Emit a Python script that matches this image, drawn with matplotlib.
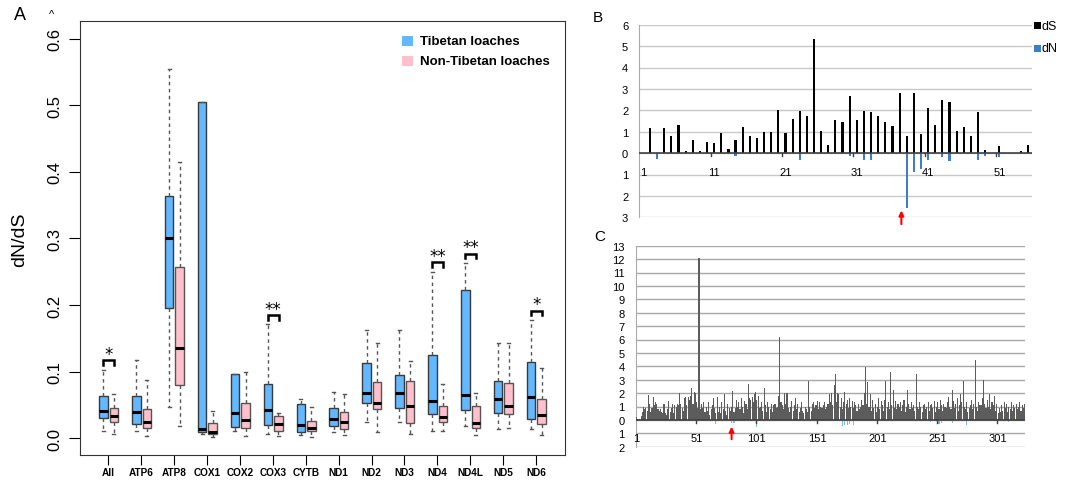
import matplotlib
matplotlib.use("Agg")
import matplotlib.pyplot as plt
from matplotlib.patches import Rectangle

# ---- panel A: dN/dS boxplots per gene ----
genes = ["All", "ATP6", "ATP8", "COX1", "COX2", "COX3", "CYTB",
         "ND1", "ND2", "ND3", "ND4", "ND4L", "ND5", "ND6"]

tib_lo = [0.011, 0.0115, 0.0465, 0.0065, 0.0115, 0.007, 0.0055, 0.009, 0.024, 0.024, 0.011, 0.0185, 0.014, 0.0135]
tib_q1 = [0.031, 0.021, 0.1956, 0.010, 0.0175, 0.0195, 0.009, 0.019, 0.0525, 0.0455, 0.036, 0.0425, 0.0385, 0.029]
tib_med = [0.0405, 0.040, 0.300, 0.014, 0.0375, 0.0425, 0.020, 0.029, 0.0685, 0.0675, 0.056, 0.0655, 0.059, 0.0625]
tib_q3 = [0.0635, 0.064, 0.3643, 0.5045, 0.0965, 0.082, 0.0515, 0.046, 0.1125, 0.0945, 0.1245, 0.222, 0.0865, 0.115]
tib_hi = [0.103, 0.117, 0.5545, 0.5045, 0.0965, 0.172, 0.059, 0.070, 0.163, 0.1625, 0.2495, 0.263, 0.143, 0.178]

non_lo = [0.007, 0.004, 0.019, 0.002, 0.004, 0.0035, 0.0025, 0.0045, 0.009, 0.006, 0.0115, 0.005, 0.0155, 0.0045]
non_q1 = [0.024, 0.015, 0.0805, 0.006, 0.015, 0.011, 0.0105, 0.0135, 0.0435, 0.0225, 0.025, 0.015, 0.037, 0.022]
non_med = [0.033, 0.025, 0.135, 0.010, 0.027, 0.0215, 0.0155, 0.025, 0.053, 0.048, 0.0325, 0.023, 0.048, 0.0355]
non_q3 = [0.045, 0.0445, 0.2577, 0.0225, 0.0525, 0.033, 0.0265, 0.0395, 0.0845, 0.0865, 0.0485, 0.049, 0.083, 0.059]
non_hi = [0.0665, 0.0875, 0.4153, 0.041, 0.099, 0.0375, 0.0475, 0.0665, 0.1425, 0.1165, 0.081, 0.068, 0.143, 0.106]

sig_genes = ["All", "COX3", "ND4", "ND4L", "ND6"]
sig_marks = ["*", "**", "**", "**", "*"]
sig_level = [0.117, 0.185, 0.264, 0.277, 0.1915]

# ---- panel B: per-codon dS / dN ----
b_ds = [0.0, 1.18, 0.0, 1.18, 0.8, 1.31, 0.09, 0.62, 0.08, 0.53,
        0.47, 0.93, 0.19, 0.62, 1.21, 0.8, 0.7, 1.0, 1.0, 2.02,
        0.95, 1.6, 1.95, 1.73, 5.33, 1.04, 0.4, 1.56, 1.46, 2.66,
        1.56, 1.98, 1.9, 1.75, 1.46, 1.26, 2.83, 0.81, 2.82, 0.9,
        2.1, 1.32, 2.5, 2.38, 1.04, 1.21, 0.81, 1.93, 0.16, 0.0,
        0.33, 0.0, 0.0, 0.08, 0.36]
b_dn_pos = [3, 14, 23, 30, 32, 33, 38, 39, 40, 41, 43, 44, 48, 49, 51]
b_dn = [0.26, 0.12, 0.31, 0.14, 0.34, 0.34, 2.55, 0.87, 0.76, 0.31, 0.16, 0.37, 0.34, 0.14, 0.16]

# ---- panel C: per-codon dS / dN ----
c_ds = [0.2, 0.05, 0.1, 0.1, 0.3, 0.6, 1.0, 0.8, 0.9, 0.7, 1.85, 1.2, 0.6, 0.9, 1.7, 1.1, 1.3, 1.2, 0.8, 0.7,
        0.8, 0.6, 0.5, 1.2, 0.5, 0.4, 0.8, 1.4, 0.6, 0.9, 1.2, 0.5, 1.1, 1.0, 1.2, 1.1, 2.0, 1.2, 0.9, 0.7,
        1.6, 1.7, 1.1, 1.7, 1.5, 1.8, 2.4, 1.2, 2.1, 2.0, 1.3, 0.9, 12.05, 0.8, 1.2, 0.9, 1.3, 0.6, 1.0, 0.7,
        1.3, 0.4, 0.8, 1.1, 1.6, 0.9, 0.5, 1.7, 0.6, 1.0, 0.5, 1.3, 0.8, 1.9, 0.7, 0.4, 1.2, 0.9, 0.7, 1.0,
        2.15, 0.6, 0.9, 1.5, 1.0, 1.3, 0.8, 1.6, 1.0, 0.5, 1.4, 1.2, 0.8, 2.7, 1.6, 1.5, 1.7, 1.3, 1.9, 2.1,
        1.5, 1.8, 0.9, 1.0, 1.3, 0.7, 2.4, 1.1, 0.6, 1.3, 1.0, 0.8, 1.2, 0.6, 1.1, 1.2, 0.9, 1.0, 1.8, 6.2,
        1.3, 1.1, 0.8, 2.0, 1.2, 2.0, 0.9, 0.6, 1.0, 1.4, 0.7, 1.1, 1.6, 0.8, 1.2, 0.6, 0.9, 1.3, 0.7, 0.5,
        1.0, 0.8, 0.6, 2.9, 1.0, 0.7, 1.2, 1.3, 0.9, 1.1, 1.4, 0.8, 1.3, 1.0, 0.9, 1.1, 1.3, 0.8, 1.0, 1.2,
        1.9, 1.3, 2.0, 1.1, 2.6, 3.45, 1.3, 2.0, 1.9, 1.0, 1.6, 0.8, 1.3, 2.1, 1.2, 1.5, 0.9, 1.6, 1.0, 1.4,
        0.9, 1.3, 1.1, 0.7, 1.2, 0.8, 1.0, 1.5, 1.1, 2.0, 3.95, 1.2, 2.8, 1.0, 1.9, 0.7, 1.5, 0.9, 1.2, 0.6,
        1.0, 1.6, 0.8, 1.4, 1.1, 0.7, 1.5, 2.9, 1.0, 1.3, 0.8, 3.55, 1.1, 2.2, 0.9, 1.4, 0.8, 1.2, 1.0, 1.3,
        0.7, 1.1, 1.5, 0.6, 1.0, 2.25, 1.2, 0.8, 1.3, 0.9, 1.1, 0.7, 3.4, 1.0, 0.8, 1.3, 1.0, 0.6, 1.1, 1.2,
        0.8, 1.0, 1.3, 0.7, 1.1, 1.2, 0.9, 1.4, 0.6, 1.0, 1.3, 0.8, 1.5, 1.1, 0.7, 1.2, 1.0, 0.9, 1.3, 1.7,
        1.0, 0.8, 2.2, 1.4, 0.9, 1.2, 1.6, 0.7, 1.1, 1.9, 1.3, 2.9, 1.0, 0.8, 1.3, 0.6, 0.9, 1.1, 1.5, 0.8,
        1.2, 4.45, 1.0, 0.7, 1.3, 1.1, 1.1, 1.6, 3.0, 1.2, 0.9, 1.5, 1.0, 1.9, 0.8, 1.3, 1.1, 1.8, 0.7, 1.2,
        0.5, 0.9, 0.6, 1.1, 0.7, 1.3, 0.9, 1.2, 0.6, 1.0, 0.8, 1.3, 0.7, 1.1, 0.9, 1.2, 0.8, 1.0, 1.3, 0.7,
        1.1, 0.9, 1.2]
c_dn_pos = [67, 80, 82, 101, 159, 172, 174, 176, 178, 181, 245, 252, 254, 263, 275, 310]
c_dn = [0.3, 0.2, 0.2, 0.55, 0.1, 0.45, 0.35, 0.4, 0.3, 0.35, 0.15, 0.3, 0.25, 0.2, 0.35, 0.15]

W, H = 1073, 481
fig = plt.figure(figsize=(W / 100, H / 100), dpi=100)
plt.rcParams["font.family"] = ["Liberation Sans", "DejaVu Sans"]


def px_axes(l, t, r, b):
    return fig.add_axes([l / W, 1 - b / H, (r - l) / W, (b - t) / H])


def fig_text(x, y, s, **kw):
    fig.text(x / W, 1 - y / H, s, **kw)


# ================= A =================
ax = px_axes(80, 22.3, 565, 455.7)
blue, pink = "#63B8FF", "#FFC0CB"
pos = list(range(1, len(genes) + 1))


def stats(lo, q1, med, q3, hi):
    return [dict(whislo=a, q1=b, med=c, q3=d, whishi=e, fliers=[])
            for a, b, c, d, e in zip(lo, q1, med, q3, hi)]


common = dict(widths=0.26, patch_artist=True, showfliers=False, capwidths=0.09,
              medianprops=dict(color="black", lw=2.2, solid_capstyle="butt"),
              whiskerprops=dict(color="#555555", lw=1, linestyle=(0, (2.5, 2.5))),
              capprops=dict(color="#555555", lw=1))
ax.bxp(stats(tib_lo, tib_q1, tib_med, tib_q3, tib_hi), positions=[p - 0.15 for p in pos],
       boxprops=dict(facecolor=blue, edgecolor="#3a3a3a", lw=1), **common)
ax.bxp(stats(non_lo, non_q1, non_med, non_q3, non_hi), positions=[p + 0.17 for p in pos],
       boxprops=dict(facecolor=pink, edgecolor="#555555", lw=1), **common)

for g, m, lv in zip(sig_genes, sig_marks, sig_level):
    k = genes.index(g) + 1
    ax.plot([k - 0.16, k - 0.16, k + 0.18, k + 0.18], [lv - 0.007, lv, lv, lv - 0.007],
            color="black", lw=1.8, solid_joinstyle="miter")
    ax.text(k + 0.01, lv + 0.0095, m, ha="center", va="center", fontsize=12,
            family="DejaVu Sans")

ax.set_xlim(0.14, 14.88)
ax.set_ylim(-0.0246, 0.626)
ax.set_xticks(pos)
ax.set_xticklabels(genes, fontsize=7.2, fontweight="bold")
ax.set_yticks([0, 0.1, 0.2, 0.3, 0.4, 0.5, 0.6])
ax.set_yticklabels(["0.0", "0.1", "0.2", "0.3", "0.4", "0.5", "0.6"],
                   rotation=90, va="center", fontsize=12)
ax.tick_params(axis="y", length=8, pad=5)
ax.tick_params(axis="x", length=7, pad=2)
for s in ax.spines.values():
    s.set_color("#333333")

fig_text(20, 240, "dN/dS", rotation=90, ha="center", va="center", fontsize=14)
fig_text(20, 16, "A", ha="center", va="center", fontsize=13)
fig_text(52, 15, "^", ha="center", va="center", fontsize=8)

# legend A
for yy, col, lab in [(42.3, blue, "Tibetan loaches"), (62, pink, "Non-Tibetan loaches")]:
    fig.patches.append(Rectangle((401.7 / W, 1 - (yy + 5) / H), 11.6 / W, 10 / H,
                                 transform=fig.transFigure, facecolor=col, edgecolor="none"))
    fig_text(420, yy, lab, ha="left", va="center", fontsize=9.5, fontweight="bold")

# ================= B =================
bx = px_axes(639.3, 25.7, 1031.5, 218.3)
b_x = list(range(1, len(b_ds) + 1))
bx.bar(b_x, b_ds, width=0.3, color="black", zorder=3)
bx.bar(b_dn_pos, [-v for v in b_dn], width=0.3, color="#3D7EC6", zorder=3)
bx.set_xlim(0.5, len(b_ds) + 0.5)
bx.set_ylim(-3, 6)
bx.set_yticks(range(-3, 7))
bx.set_yticklabels([str(abs(v)) for v in range(-3, 7)], fontsize=8)
bx.grid(axis="y", color="#c8c8c8", lw=1)
bx.set_axisbelow(True)
bx.axhline(0, color="#404040", lw=1.2, zorder=4)
bx.set_xticks([])
bx.tick_params(axis="y", length=0, pad=8)
for s in ["top", "right", "bottom"]:
    bx.spines[s].set_visible(False)
bx.spines["left"].set_color("#aaaaaa")
for t in [10.5, 20.5, 30.5, 40.5, 50.5]:
    bx.plot([t, t], [0, -0.12], color="#404040", lw=1, zorder=4)
for lab in [1, 11, 21, 31, 41, 51]:
    bx.text(lab, -0.89, str(lab), ha="center", va="center", fontsize=8)
bx.annotate("", xy=(37.25, -2.55), xytext=(37.25, -3.45),
            arrowprops=dict(arrowstyle="-|>", color="red", lw=1.5, mutation_scale=7),
            annotation_clip=False)
fig_text(598, 18, "B", ha="center", va="center", fontsize=11)
for yy, col, lab in [(26.7, "black", "dS"), (49.3, "#3D7EC6", "dN")]:
    fig.patches.append(Rectangle((1034 / W, 1 - (yy + 3.5) / H), 6.5 / W, 7 / H,
                                 transform=fig.transFigure, facecolor=col, edgecolor="none"))
    fig_text(1042, yy, lab, ha="left", va="center", fontsize=9)

# ================= C =================
cx = px_axes(635.7, 246.7, 1025.2, 447.7)
c_x = list(range(1, len(c_ds) + 1))
cx.bar(c_x, c_ds, width=0.9, color="#5c5c5c", lw=0, zorder=3)
cx.bar(c_dn_pos, [-v for v in c_dn], width=0.9, color="#7DBBE6", lw=0, zorder=3)
cx.set_xlim(0.5, len(c_ds) + 0.5)
cx.set_ylim(-2, 13)
cx.set_yticks(range(-2, 14))
cx.set_yticklabels([str(abs(v)) for v in range(-2, 14)], fontsize=8)
cx.grid(axis="y", color="#a8a8a8", lw=1)
cx.set_axisbelow(True)
cx.axhline(0, color="#404040", lw=1.2, zorder=4)
cx.set_xticks([])
cx.tick_params(axis="y", length=0, pad=8)
for s in ["top", "right", "bottom"]:
    cx.spines[s].set_visible(False)
cx.spines["left"].set_color("#aaaaaa")
for t in [50.5, 100.5, 150.5, 200.5, 250.5, 300.5]:
    cx.plot([t, t], [0, -0.2], color="#404040", lw=1, zorder=4)
for lab in [1, 51, 101, 151, 201, 251, 301]:
    cx.text(lab, -1.37, str(lab), ha="center", va="center", fontsize=8)
cx.annotate("", xy=(80, -0.3), xytext=(80, -1.65),
            arrowprops=dict(arrowstyle="-|>", color="red", lw=1.5, mutation_scale=7),
            annotation_clip=False)
fig_text(600, 237, "C", ha="center", va="center", fontsize=11)

fig.savefig("out.png", dpi=100)
